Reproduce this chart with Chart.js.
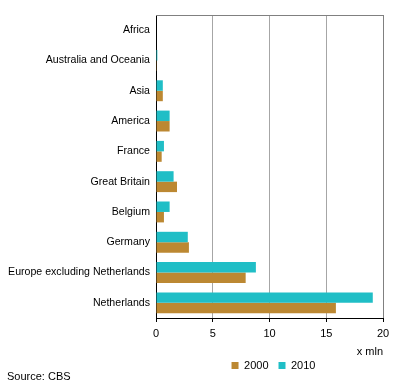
<!DOCTYPE html>
<html>
<head>
<meta charset="utf-8">
<script src="https://cdn.jsdelivr.net/npm/chart.js@4/dist/chart.umd.min.js"></script>
<style>
html,body{margin:0;padding:0;background:#fff;}
#wrap{width:396px;height:388px;position:relative;}
</style>
</head>
<body>
<div id="wrap"><canvas id="c" width="396" height="388"></canvas></div>
<script>
const categories = ['Africa','Australia and Oceania','Asia','America','France','Great Britain','Belgium','Germany','Europe excluding Netherlands','Netherlands'];
const values2000 = [0, 0.02, 0.6, 1.2, 0.5, 1.85, 0.7, 2.9, 7.9, 15.85];
const values2010 = [0, 0.12, 0.6, 1.2, 0.7, 1.55, 1.2, 2.8, 8.8, 19.1];
const seriesNames = ['2000', '2010'];
const xTickValues = [0, 5, 10, 15, 20];
const unitLabel = 'x mln';
const sourceText = 'Source: CBS';

const FONT = 'Liberation Sans, Arial, sans-serif';

const topBorder = {
  id: 'topBorder',
  afterDatasetsDraw(chart) {
    const a = chart.chartArea, ctx = chart.ctx;
    ctx.save();
    ctx.strokeStyle = '#808080';
    ctx.lineWidth = 1;
    ctx.beginPath();
    ctx.moveTo(a.left, Math.round(a.top) + 0.5);
    ctx.lineTo(a.right + 1, Math.round(a.top) + 0.5);
    ctx.stroke();
    ctx.restore();
  }
};

const boxPlacement = {
  id: 'boxPlacement',
  beforeLayout(chart) {
    const lg = chart.legend;
    if (lg && !lg._fixed) {
      const orig = lg.fit.bind(lg);
      lg.fit = function () { orig(); this.height = 14; };
      lg._fixed = true;
    }
  },
  afterLayout(chart) {
    const lg = chart.legend;
    if (lg) { lg.top = 350; lg.bottom = 380; lg.left += 4; lg.right += 4; }
    const st = chart.boxes.find(b => b.options && b.options.text === sourceText);
    if (st) { st.top = 370; st.bottom = 384; }
  }
};

new Chart(document.getElementById('c'), {
  type: 'bar',
  data: {
    labels: categories,
    datasets: [
      { label: seriesNames[1], data: values2010, backgroundColor: '#20BEC6', borderWidth: 0 },
      { label: seriesNames[0], data: values2000, backgroundColor: '#BC8832', borderWidth: 0 }
    ]
  },
  options: {
    indexAxis: 'y',
    responsive: false,
    animation: false,
    devicePixelRatio: 1,
    categoryPercentage: 0.69,
    barPercentage: 1,
    layout: { padding: { top: 15, right: 13, left: 7, bottom: 1.8 } },
    scales: {
      x: {
        min: 0, max: 20,
        afterBuildTicks(scale) { scale.ticks = xTickValues.map(v => ({ value: v })); },
        afterFit(scale) { scale.height = 41; },
        ticks: { font: { family: FONT, size: 11 }, color: '#000', padding: 5, maxRotation: 0 },
        grid: {
          color: ctx => (ctx.tick && ctx.tick.value === 20) ? '#808080' : '#a6a6a6',
          tickColor: '#000',
          tickLength: 4,
          lineWidth: 1
        },
        border: { display: true, color: '#000' },
        title: { display: true, text: unitLabel, align: 'end', font: { family: FONT, size: 11 }, color: '#000', padding: { top: 0, bottom: 0 } }
      },
      y: {
        afterFit(scale) { scale.width = 149; },
        ticks: { font: { family: FONT, size: 10.6 }, color: '#000', padding: 6 },
        grid: { display: false, drawTicks: false },
        border: { display: true, color: '#000' }
      }
    },
    plugins: {
      legend: {
        position: 'bottom',
        fullSize: false,
        reverse: true,
        labels: { boxWidth: 7, boxHeight: 7, padding: 10, font: { family: FONT, size: 11 }, color: '#000' }
      },
      subtitle: {
        display: true, text: sourceText, position: 'bottom', align: 'start',
        font: { family: FONT, size: 11, weight: 'normal' }, color: '#000', padding: { top: 0, bottom: 0 }
      },
      tooltip: { enabled: false }
    }
  },
  plugins: [topBorder, boxPlacement]
});
</script>
</body>
</html>
